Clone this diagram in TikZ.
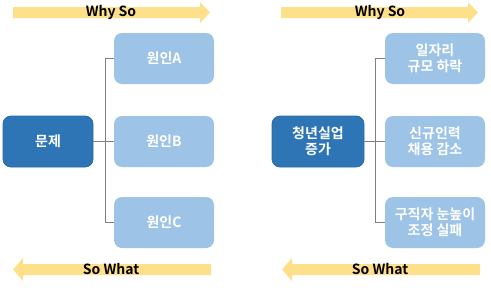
\documentclass[tikz,border=0pt]{standalone}
\usepackage{fontspec}
\setmainfont{Noto Sans CJK KR}[BoldFont={Noto Sans CJK KR Bold}]
\definecolor{dkblue}{HTML}{2E75B6}
\definecolor{dkborder}{HTML}{2A6AA6}
\definecolor{ltblue}{HTML}{9DC3E6}
\definecolor{arrowy}{HTML}{FFE08A}
\definecolor{linegray}{HTML}{808080}
\begin{document}
\begin{tikzpicture}[x=0.75pt,y=-0.75pt,
  mainbox/.style={draw=dkborder,line width=0.6pt,fill=dkblue,rounded corners=6pt,text=white,font=\bfseries\fontsize{10.5}{12}\selectfont,align=center,minimum height=38.25pt,inner sep=0pt},
  causebox/.style={fill=ltblue,rounded corners=6pt,text=white,font=\bfseries\fontsize{10.5}{12}\selectfont,align=center,minimum width=75pt,minimum height=38.25pt,inner sep=0pt},
  arrowshape/.style={fill=arrowy,draw=none},
  arrowtext/.style={font=\bfseries\fontsize{10.5}{12}\selectfont,text=black,inner sep=0pt},
  conn/.style={draw=linegray,line width=0.75pt}]
\useasboundingbox (0,0) rectangle (491,287);
% arrows
\fill[arrowshape] (13,7) -- (200,7) -- (200,2) -- (210,12.5) -- (200,23) -- (200,18) -- (13,18) -- cycle;
\node[arrowtext] (whyL) at (111,12.5) {Why So};
\fill[arrowshape] (281,7) -- (468,7) -- (468,2) -- (478,12.5) -- (468,23) -- (468,18) -- (281,18) -- cycle;
\node[arrowtext] (whyR) at (380,12.5) {Why So};
\fill[arrowshape] (211,264) -- (23,264) -- (23,258) -- (13,269.5) -- (23,281) -- (23,275) -- (211,275) -- cycle;
\node[arrowtext] (soL) at (111,269.5) {So What};
\fill[arrowshape] (480,264) -- (292,264) -- (292,258) -- (282,269.5) -- (292,281) -- (292,275) -- (480,275) -- cycle;
\node[arrowtext] (soR) at (380,269.5) {So What};
% left panel
\node[mainbox,minimum width=67.5pt] (pL) at (48,141.5) {문제};
\node[causebox] (aL) at (164,58.5) {원인A};
\node[causebox] (bL) at (164,141.5) {원인B};
\node[causebox] (cL) at (164,222.5) {원인C};
\coordinate (jL) at (105,141.5);
\draw[conn] (pL.east) -- (jL) -- (bL.west);
\draw[conn] (aL.west) -- (aL.west -| jL) -- (cL.west -| jL) -- (cL.west);
% right panel
\node[mainbox,minimum width=69pt] (pR) at (318,141.5) {청년실업\\증가};
\node[causebox] (aR) at (435,58.5) {일자리\\규모 하락};
\node[causebox] (bR) at (435,141.5) {신규인력\\채용 감소};
\node[causebox] (cR) at (435,222.5) {구직자 눈높이\\조정 실패};
\coordinate (jR) at (375,141.5);
\draw[conn] (pR.east) -- (jR) -- (bR.west);
\draw[conn] (aR.west) -- (aR.west -| jR) -- (cR.west -| jR) -- (cR.west);
\end{tikzpicture}
\end{document}
